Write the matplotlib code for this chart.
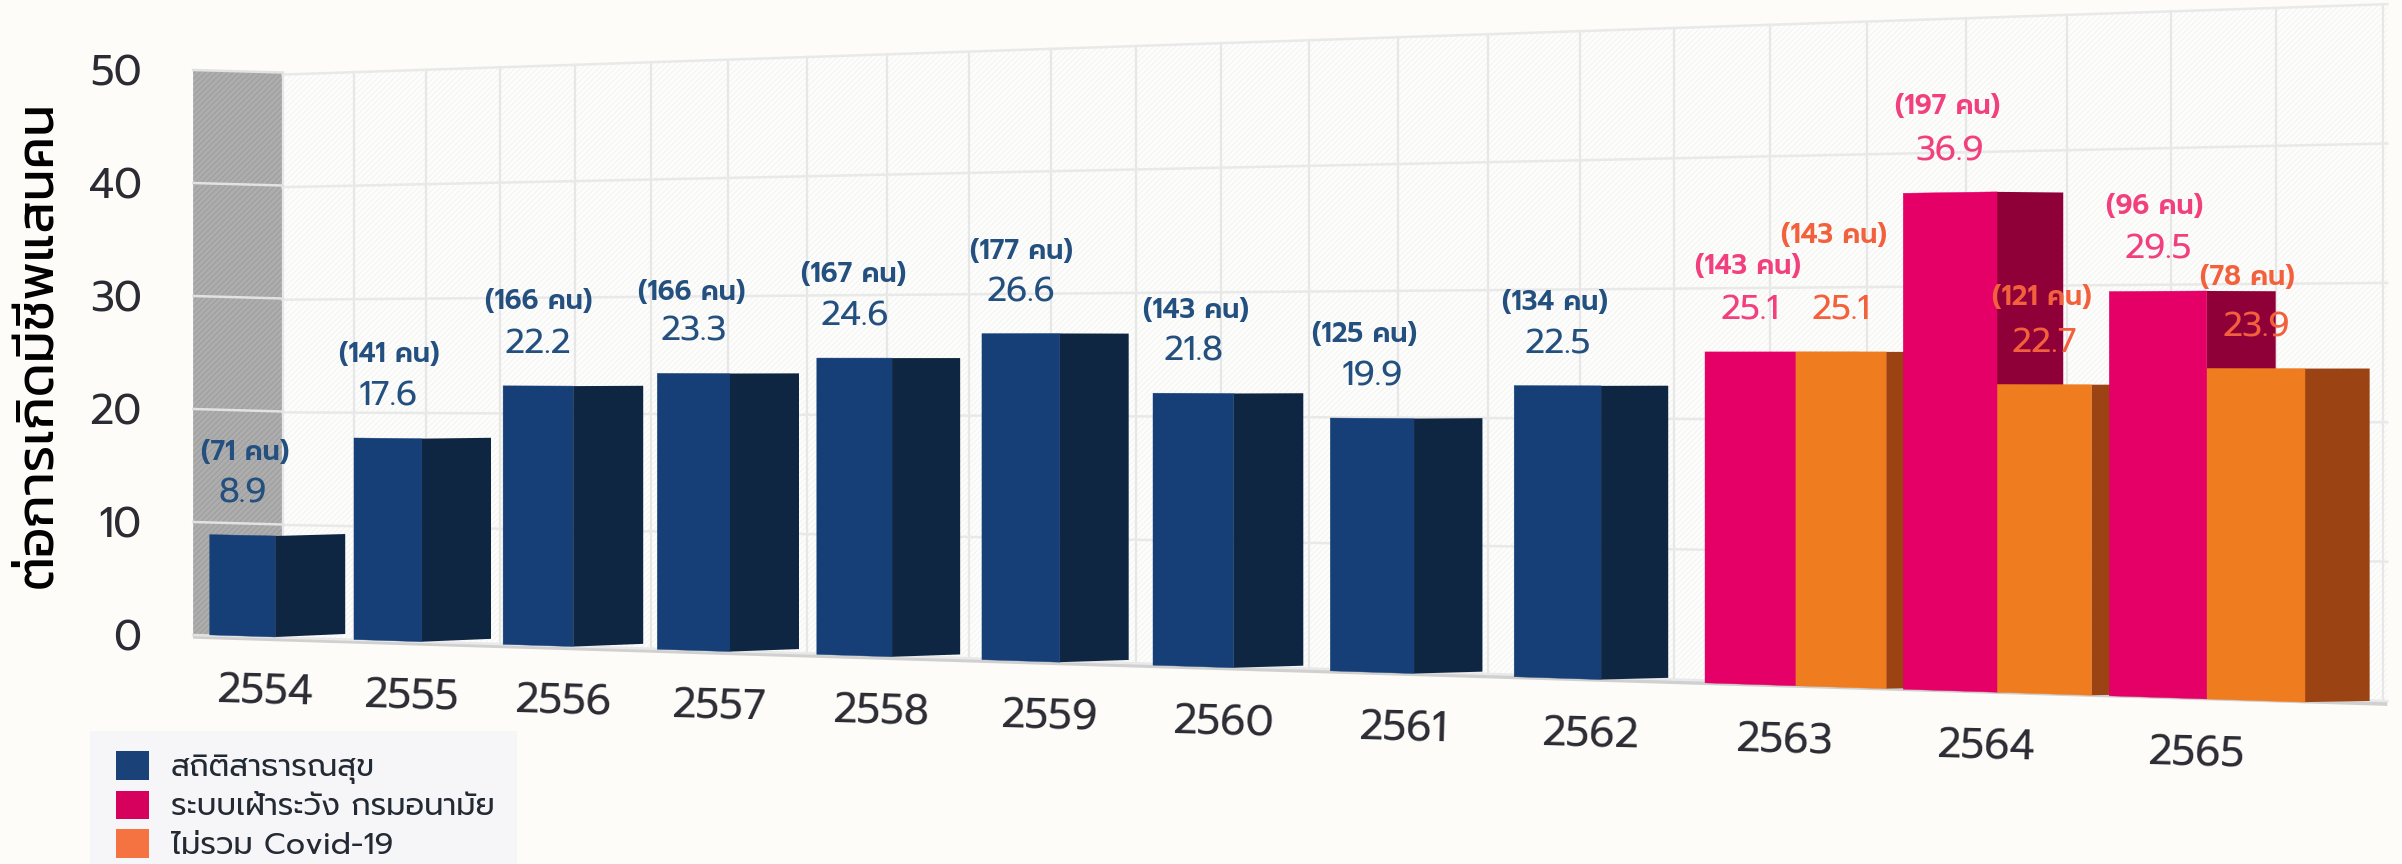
import numpy as np
import matplotlib
matplotlib.use("Agg")
import matplotlib.pyplot as plt
from matplotlib.patches import Patch, Polygon, Rectangle
from matplotlib.transforms import Transform
from matplotlib import font_manager as fm

years = ["2554", "2555", "2556", "2557", "2558", "2559", "2560", "2561", "2562", "2563", "2564", "2565"]
blue_values = [8.9, 17.6, 22.2, 23.3, 24.6, 26.6, 21.8, 19.9, 22.5]
blue_counts = ["(71 คน)", "(141 คน)", "(166 คน)", "(166 คน)", "(167 คน)", "(177 คน)", "(143 คน)", "(125 คน)", "(134 คน)"]
pink_values = [25.1, 36.9, 29.5]
pink_counts = ["(143 คน)", "(197 คน)", "(96 คน)"]
orange_values = [25.1, 22.7, 23.9]
orange_counts = ["(143 คน)", "(121 คน)", "(78 คน)"]
y_ticks = [0, 10, 20, 30, 40, 50]
legend_labels = ["สถิติสาธารณสุข", "ระบบเฝ้าระวัง กรมอนามัย", "ไม่รวม Covid-19"]
y_title = "ต่อการเกิดมีชีพแสนคน"

BLUE, BLUE_DARK = "#163f77", "#0f2643"
PINK, PINK_DARK = "#e40066", "#900038"
ORANGE, ORANGE_DARK = "#f07c20", "#9c4314"
BG = "#fdfcf8"


def pick_font(names):
    have = {f.name for f in fm.fontManager.ttflist}
    for n in names:
        if n in have:
            return n
    return "DejaVu Sans"


FONT = pick_font(["Prompt", "Kanit", "Sarabun", "Noto Sans Thai", "Noto Sans"])
TITLE_FONT = pick_font(["Kanit", "Prompt", "Sarabun", "Noto Sans Thai", "Noto Sans"])


class Persp(Transform):
    # projective map from (category position, value) to figure pixels, y down
    input_dims = output_dims = 2
    is_separable = False
    has_inverse = False

    def __init__(self, a, b, c, d, e, f, corner=None):
        super().__init__()
        self.m = (a, b, c, d, e, f)
        self.corner = corner

    def transform_non_affine(self, values):
        a, b, c, d, e, f = self.m
        u, v = values[:, 0], values[:, 1]
        w = c * u + 1
        y = (d * u + e * v + f) / w
        if self.corner is not None:
            # side of a box turns away from the viewer
            y = y - 11 * (u - self.corner) * (1 - v / 25)
        return np.column_stack([(a * u + b) / w, 864 - y])


BAR_M = (139.6, 275.5, -0.0163, -5.76, -11.35, 637)
bar_tf = Persp(*BAR_M)
wall_tf = Persp(139.6, 275.5, -0.0163, -6.04, -11.25, 637.3)
side_tf = Persp(143, 275.8, 0, 3.98, -11.3, 637.3)

fig = plt.figure(figsize=(24.02, 8.64), dpi=100, facecolor=BG)
ax = fig.add_axes([193 / 2402, (864 - 635) / 864, (2388 - 193) / 2402, (635 - 70) / 864])
ax.set_facecolor("none")
ax.set_xlim(0, 1)
ax.set_ylim(0, 50)
for s in ax.spines.values():
    s.set_visible(False)
ax.set_xticks([])
ax.set_yticks(y_ticks)
ax.tick_params(axis="y", length=0, pad=37, labelcolor="#2b2b33")
for t in ax.get_yticklabels():
    t.set_fontfamily(FONT)
    t.set_fontsize(30)

# back wall and grey side wall
plt.rcParams["hatch.linewidth"] = 0.5
ax.add_patch(Polygon([(0.05, 0), (11.83, 0), (11.83, 50), (0.05, 50)], transform=wall_tf,
                     facecolor="#fdfdfc", edgecolor="#f0f0f0", hatch="//////", lw=0, zorder=1, clip_on=False))
ax.add_patch(Polygon([(-0.578, 0), (0.05, 0), (0.05, 50), (-0.578, 50)], transform=side_tf,
                     facecolor="#adadad", edgecolor="#979797", hatch="//////", lw=0, zorder=1, clip_on=False))
ax.add_patch(Polygon([(-0.578, 0), (11.83, 0), (11.83, -0.35), (-0.578, -0.35)], transform=wall_tf,
                     facecolor="#d0d0d0", lw=0, zorder=1, clip_on=False))
grid_u = 0.05 + 0.49 * np.arange(25)
for u in grid_u:
    ax.plot([u, u], [0, 50], transform=wall_tf, color="#e7e7e7", lw=1.6, zorder=1.5, clip_on=False)
for v in y_ticks:
    ax.plot([0.05, 11.83], [v, v], transform=wall_tf, color="#e9e9e9", lw=1.8, zorder=1.5, clip_on=False)
    ax.plot([-0.578, 0.05], [v, v], transform=side_tf, color="#e2e2e2", lw=1.8, zorder=1.5, clip_on=False)

# blue bars, corner of each box sits on the whole category position
front_w = 0.46
blue_side = [0.48, 0.46, 0.45, 0.43, 0.41, 0.40, 0.39, 0.37, 0.35]
blue_pos = np.arange(len(blue_values))
ax.bar(blue_pos - front_w / 2, blue_values, width=front_w, color=BLUE, edgecolor=BLUE, lw=0.3,
       transform=bar_tf, zorder=3, clip_on=False)
for p, val, w in zip(blue_pos, blue_values, blue_side):
    ax.bar(p + w / 2, val, width=w, color=BLUE_DARK, transform=Persp(*BAR_M, corner=p), zorder=3, clip_on=False)

# pink and orange boxes overlap, later years stand in front
pair_pos = np.arange(9, 12)
orange_w = 0.455
orange_side = [0.09, 0.09, 0.295]
pink_side = 0.32
for i, p in enumerate(pair_pos):
    z = 4 + i
    ax.bar(p - front_w / 2, pink_values[i], width=front_w, color=PINK, edgecolor=PINK, lw=0.3,
           transform=bar_tf, zorder=z + 0.3, clip_on=False)
    ax.bar(p + pink_side / 2, pink_values[i], width=pink_side, color=PINK_DARK,
           transform=Persp(*BAR_M, corner=p), zorder=z, clip_on=False)
    ax.bar(p + orange_w / 2, orange_values[i], width=orange_w, color=ORANGE, edgecolor=ORANGE, lw=0.3,
           transform=bar_tf, zorder=z + 0.2, clip_on=False)
    ax.bar(p + orange_w + orange_side[i] / 2, orange_values[i], width=orange_side[i], color=ORANGE_DARK,
           transform=Persp(*BAR_M, corner=p + orange_w), zorder=z + 0.1, clip_on=False)


def add_labels(positions, values, counts, color, count_off):
    for p, val, cnt, off in zip(positions, values, counts, count_off):
        ax.annotate(f"{val}", xy=(p, val), xycoords=bar_tf, xytext=(0, 41), textcoords="offset pixels",
                    ha="center", va="center", color=color, fontsize=25, fontfamily=FONT,
                    zorder=10, annotation_clip=False)
        ax.annotate(cnt, xy=(p, val), xycoords=bar_tf, xytext=(off[0], off[1]), textcoords="offset pixels",
                    ha="center", va="center", color=color, fontsize=19.5, fontfamily=FONT,
                    fontweight="semibold", zorder=10, annotation_clip=False)


add_labels(blue_pos - 0.23, blue_values, blue_counts, "#24507f",
           [(3, 83), (1, 84), (1, 84), (-2, 81), (-1, 84), (1, 82), (3, 83), (-7, 84), (-3, 83)])
add_labels(pair_pos - 0.23, pink_values, pink_counts, "#f2407f", [(-2, 85), (-2, 86), (-3, 85)])
add_labels(pair_pos + 0.23, orange_values, orange_counts, "#f2603c", [(-7, 116), (-3, 87), (-9, 91)])

# year labels follow the sloping floor
for i, y in enumerate(years):
    ax.annotate(y, xy=(i, 0), xycoords=bar_tf, xytext=(-11, -56), textcoords="offset pixels", ha="center",
                va="center", rotation=-1.5, color="#2b2b33", fontsize=30, fontfamily=FONT,
                annotation_clip=False)

fig.text(39 / 2402, 1 - 345 / 864, y_title, rotation=90, ha="center", va="center", fontsize=38,
         fontfamily=TITLE_FONT, color="#000000")

# legend box runs off the bottom of the figure
fig.add_artist(Rectangle((90 / 2402, 0), 427 / 2402, 133 / 864, transform=fig.transFigure,
                         facecolor="#f6f6f8", edgecolor="none", zorder=0))
handles = [Patch(facecolor=c, edgecolor="none") for c in ["#1a4178", "#d6005d", "#f47340"]]
leg = fig.legend(handles, legend_labels, loc="lower left", bbox_to_anchor=(116 / 2402, 3 / 864), borderaxespad=0,
                 frameon=False, handlelength=1.08, handleheight=1.08, labelspacing=0.22, handletextpad=0.72,
                 borderpad=0, labelcolor="#232a33", prop={"family": FONT, "size": 22})
leg.set_zorder(20)

fig.savefig("out.png", dpi=100, facecolor=BG)
